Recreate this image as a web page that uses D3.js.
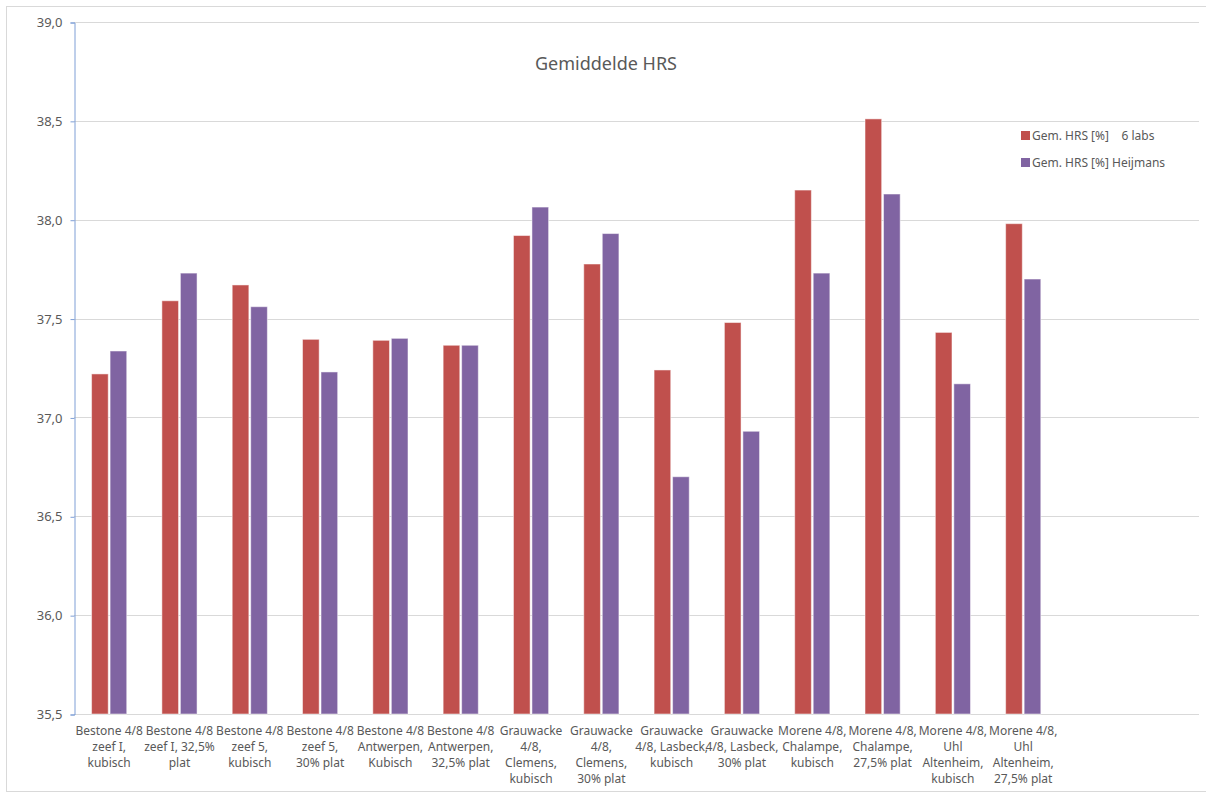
<!DOCTYPE html>
<html>
<head>
<meta charset="utf-8">
<script src="https://cdn.jsdelivr.net/npm/d3@7"></script>
<style>
  body { margin: 0; background: #fff; }
  text { font-family: "Noto Sans", "Open Sans", sans-serif; fill: #595959; }
</style>
</head>
<body>
<div id="chart"></div>
<script>
var w = 1206, h = 794;

var categories = [
  ["Bestone 4/8", "zeef I,", "kubisch"],
  ["Bestone 4/8", "zeef I, 32,5%", "plat"],
  ["Bestone 4/8", "zeef 5,", "kubisch"],
  ["Bestone 4/8", "zeef 5,", "30% plat"],
  ["Bestone 4/8", "Antwerpen,", "Kubisch"],
  ["Bestone 4/8", "Antwerpen,", "32,5% plat"],
  ["Grauwacke", "4/8,", "Clemens,", "kubisch"],
  ["Grauwacke", "4/8,", "Clemens,", "30% plat"],
  ["Grauwacke", "4/8, Lasbeck,", "kubisch"],
  ["Grauwacke", "4/8, Lasbeck,", "30% plat"],
  ["Morene 4/8,", "Chalampe,", "kubisch"],
  ["Morene 4/8,", "Chalampe,", "27,5% plat"],
  ["Morene 4/8,", "Uhl", "Altenheim,", "kubisch"],
  ["Morene 4/8,", "Uhl", "Altenheim,", "27,5% plat"]
];

var labs6 = [37.22, 37.59, 37.67, 37.395, 37.39, 37.365, 37.92, 37.776, 37.24, 37.48, 38.15, 38.51, 37.43, 37.98];
var heijmans = [37.336, 37.73, 37.56, 37.23, 37.40, 37.365, 38.064, 37.93, 36.70, 36.93, 37.73, 38.13, 37.17, 37.70];

var seriesNames = ["Gem. HRS [%]    6 labs", "Gem. HRS [%] Heijmans"];
var seriesColors = ["#c0504d", "#8064a2"];
var yTicks = [35.5, 36.0, 36.5, 37.0, 37.5, 38.0, 38.5, 39.0];
var slots = 16; // category slots on the axis (last two empty)

var svg = d3.select("#chart").append("svg")
  .attr("width", w)
  .attr("height", h);

// outer chart border
svg.append("rect")
  .attr("x", 6.5).attr("y", 6.5)
  .attr("width", w + 10).attr("height", h - 9)
  .attr("fill", "none")
  .attr("stroke", "#d9d9d9");

var pLeft = 74, pRight = 1199, pTop = 22, pBottom = 714;

var y = d3.scaleLinear().domain([35.5, 39]).range([pBottom, pTop]);
var x = d3.scaleBand().domain(d3.range(slots)).range([pLeft, pRight]).padding(0);
var bw = x.bandwidth();
var xs = d3.scaleBand().domain([0, 1]).range([bw * 0.25, bw * 0.75]).paddingInner(0.1);

// gridlines
svg.append("g").selectAll("line")
  .data(yTicks)
  .enter().append("line")
  .attr("x1", pLeft).attr("x2", pRight)
  .attr("y1", function(d) { return Math.round(y(d)) + 0.5; })
  .attr("y2", function(d) { return Math.round(y(d)) + 0.5; })
  .attr("stroke", "#d9d9d9");

// y axis
var yAxis = svg.append("g")
  .attr("transform", "translate(" + (pLeft + 0.5) + ",0.5)")
  .call(d3.axisLeft(y).tickValues(yTicks).tickSize(4).tickPadding(8)
    .tickFormat(function(d) { return d3.format(".1f")(d).replace(".", ","); }));
yAxis.select(".domain").attr("stroke", "#7f9fd6");
yAxis.selectAll(".tick line").attr("stroke", "#7f9fd6");
yAxis.selectAll(".tick text").style("font-size", "13px").attr("fill", "#595959")
  .style("font-family", "'Noto Sans', sans-serif");

// bars
var data = categories.map(function(c, i) { return [labs6[i], heijmans[i]]; });
var groups = svg.append("g").selectAll("g")
  .data(data)
  .enter().append("g")
  .attr("transform", function(d, i) { return "translate(" + x(i) + ",0)"; });

groups.selectAll("rect")
  .data(function(d) { return d; })
  .enter().append("rect")
  .attr("x", function(d, j) { return xs(j); })
  .attr("width", xs.bandwidth())
  .attr("y", function(d) { return y(d); })
  .attr("height", function(d) { return pBottom - y(d); })
  .attr("fill", function(d, j) { return seriesColors[j]; })
  .attr("stroke", "#fff")
  .attr("stroke-opacity", 0.5)
  .attr("stroke-width", 1);

// x labels
var xl = svg.append("g").selectAll("text")
  .data(categories)
  .enter().append("text")
  .attr("text-anchor", "middle")
  .attr("x", function(d, i) { return x(i) + bw / 2; })
  .attr("y", 735)
  .style("font-size", "12px");
xl.selectAll("tspan")
  .data(function(d) { return d; })
  .enter().append("tspan")
  .attr("x", function() { return d3.select(this.parentNode).attr("x"); })
  .attr("dy", function(d, i) { return i === 0 ? 0 : 16; })
  .text(function(d) { return d; });

// title
svg.append("text")
  .attr("x", 606).attr("y", 70)
  .attr("text-anchor", "middle")
  .style("font-size", "18px")
  .text("Gemiddelde HRS");

// legend
var lg = svg.append("g").attr("transform", "translate(1021,131)");
var li = lg.selectAll("g")
  .data(seriesNames)
  .enter().append("g")
  .attr("transform", function(d, i) { return "translate(0," + i * 27 + ")"; });
li.append("rect")
  .attr("width", 9).attr("height", 9)
  .attr("fill", function(d, i) { return seriesColors[i]; });
li.append("text")
  .attr("x", 11).attr("y", 9)
  .style("font-size", "12px")
  .style("white-space", "pre")
  .text(function(d) { return d; });
</script>
</body>
</html>
